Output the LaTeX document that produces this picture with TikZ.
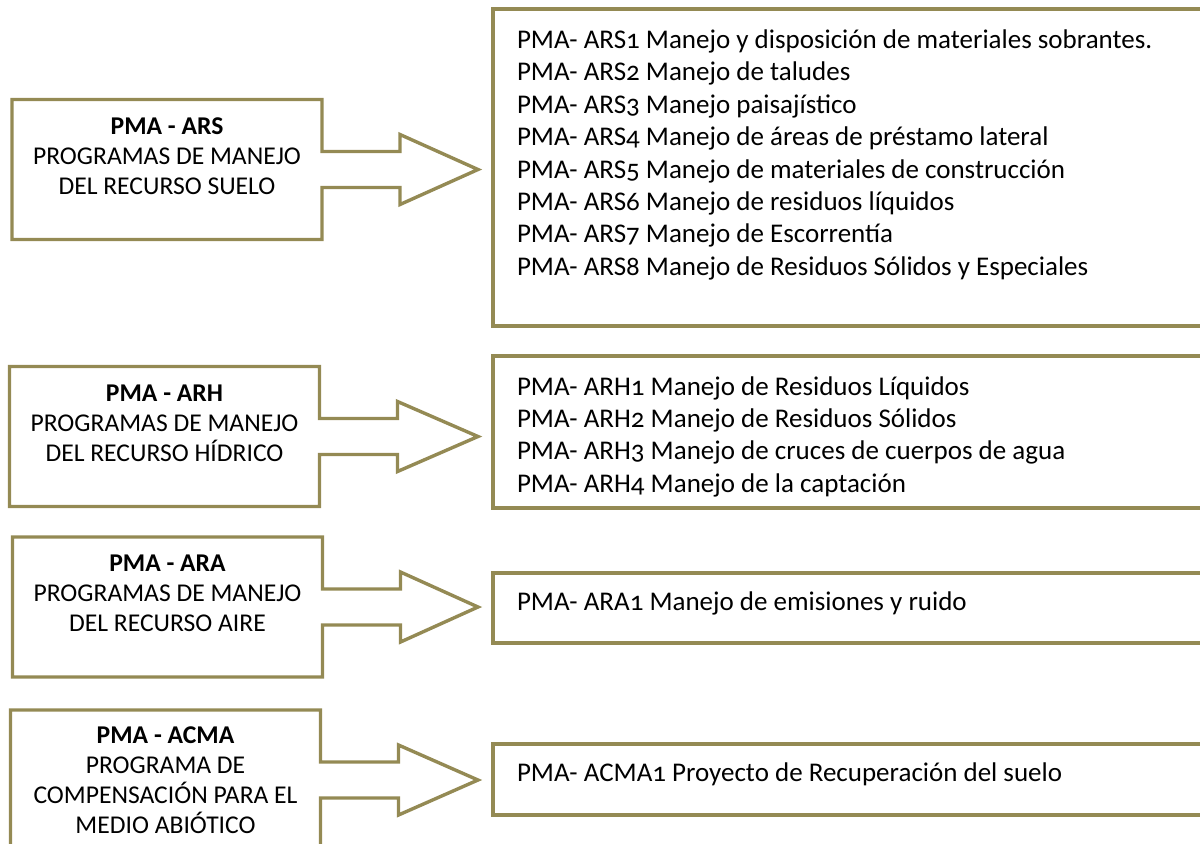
\documentclass[tikz,border=0pt]{standalone}
\usepackage{fontspec}
\setmainfont{Carlito}[Numbers=OldStyle]
\usepackage{tikz}
\usetikzlibrary{calc}
\definecolor{pmaclr}{RGB}{148,138,84}
\newcommand{\firstline}{\rule{0pt}{14pt}}

\begin{document}
\begin{tikzpicture}[x=0.5pt, y=-0.5pt,
  pmaline/.style={draw=pmaclr, line width=1.7pt, line join=miter},
  srcbox/.style={minimum width=155pt, minimum height=70pt, inner sep=0pt, outer sep=0pt,
    align=flush center, font=\fontsize{12.8}{15}\selectfont},
  listbox/.style={pmaline, anchor=west, text width=350pt, inner xsep=12pt, inner ysep=0pt,
    outer sep=0pt, align=flush left, font=\fontsize{13.5}{16.2}\selectfont}]

\useasboundingbox (0,0) rectangle (1200,843);
\clip (0,0) rectangle (1200,843);

% Programme boxes (left)
\node[srcbox] (ars)  at (167,169.5) {\textbf{PMA - ARS}\\PROGRAMAS DE MANEJO\\DEL RECURSO SUELO\\[-6pt]\strut};
\node[srcbox] (arh)  at (164.5,436.5) {\textbf{PMA - ARH}\\PROGRAMAS DE MANEJO\\DEL RECURSO HÍDRICO\\[-6pt]\strut};
\node[srcbox] (ara)  at (167.5,607) {\textbf{PMA - ARA}\\PROGRAMAS DE MANEJO\\DEL RECURSO AIRE\\[-6pt]\strut};
\node[srcbox] (acma) at (165.5,780) {\textbf{PMA - ACMA}\\PROGRAMA DE\\COMPENSACIÓN PARA EL\\MEDIO ABIÓTICO};

% Project lists (right)
\node[listbox, minimum height=158.5pt] (arslist) at (493,167.5)
  {PMA- ARS1 Manejo y disposición de materiales sobrantes.\\
   PMA- ARS2 Manejo de taludes\\
   PMA- ARS3 Manejo paisajístico\\
   PMA- ARS4 Manejo de áreas de préstamo lateral\\
   PMA- ARS5 Manejo de materiales de construcción\\
   PMA- ARS6 Manejo de residuos líquidos\\
   PMA- ARS7 Manejo de Escorrentía\\
   PMA- ARS8 Manejo de Residuos Sólidos y Especiales\\[-6pt]\strut};
\node[listbox, minimum height=76pt] (arhlist) at (493,432)
  {\firstline PMA- ARH1 Manejo de Residuos Líquidos\\
   PMA- ARH2 Manejo de Residuos Sólidos\\
   PMA- ARH3 Manejo de cruces de cuerpos de agua\\
   PMA- ARH4 Manejo de la captación};
\node[listbox, minimum height=35pt, text depth=7pt] (aralist) at (493,608)
  {PMA- ARA1 Manejo de emisiones y ruido};
\node[listbox, minimum height=35.5pt, text depth=7pt] (acmalist) at (493,779.5)
  {PMA- ACMA1 Proyecto de Recuperación del suelo};

% Box outlines with block arrows
\foreach \src/\dst in {ars/arslist, arh/arhlist, ara/aralist, acma/acmalist}{
  \draw[pmaline] (\src.north west) -- (\src.north east) -- ($(\src.east)+(0,-18)$) -- ++(78,0) -- ++(0,-17)
    -- ($(\src.east -| \dst.west)+(-15,0)$) -- ($(\src.east)+(78,35)$) -- ++(0,-17)
    -- ($(\src.east)+(0,18)$) -- (\src.south east) -- (\src.south west) -- cycle;
}

\end{tikzpicture}
\end{document}
